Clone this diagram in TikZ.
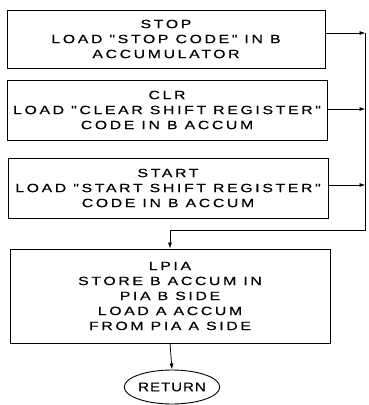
\documentclass[tikz,border=0pt]{standalone}
\usepackage{fontspec}
\usetikzlibrary{arrows.meta,shapes.geometric}
\newfontfamily\plotfont[FakeStretch=1.32,LetterSpace=22,FakeBold=0.4]{Liberation Sans}
\newfontfamily\endfont[FakeStretch=1.2,LetterSpace=8,FakeBold=0.4]{Liberation Sans}

\tikzset{
    blockbox/.style={draw, line width=0.9pt, align=center, inner sep=0pt,
        font=\plotfont\fontsize{12}{15}\selectfont},
    endbox/.style={draw, ellipse, line width=0.9pt, inner sep=0pt,
        minimum width=74pt, minimum height=34pt,
        font=\endfont\fontsize{12.5}{15}\selectfont},
    flowline/.style={line width=0.8pt},
    flowarrow/.style={line width=0.8pt, -{Latex[length=6pt,width=4pt]}}
}

\begin{document}
\begin{tikzpicture}[x=1pt,y=-1pt]

    % Keep the page the size of the reference
    \useasboundingbox (0,0) rectangle (368,405);

    % The three entry blocks
    \node[blockbox, minimum width=318pt, minimum height=58pt] (stop) at (166,39)
        {STOP\\LOAD "STOP CODE" IN B\\ACCUMULATOR};
    \node[blockbox, minimum width=320pt, minimum height=60pt] (clr) at (167,110)
        {CLR\\LOAD "CLEAR SHIFT REGISTER"\\CODE IN B ACCUM};
    \node[blockbox, minimum width=320pt, minimum height=60pt] (start) at (168,188)
        {START\\LOAD "START SHIFT REGISTER"\\CODE IN B ACCUM};

    % Common block and exit
    \node[blockbox, minimum width=320pt, minimum height=94pt] (lpia) at (170,296)
        {LPIA\\STORE B ACCUM IN\\PIA B SIDE\\LOAD A ACCUM\\FROM PIA A SIDE};
    \node[endbox] (ret) at (172,387) {RETURN};

    % Points on the return bus at the right
    \coordinate (bus1) at (365.5,33);
    \coordinate (bus2) at (365.5,109);
    \coordinate (bus3) at (365.5,185);
    \coordinate (bus4) at (365.5,230);
    \coordinate (drop) at (lpia.north |- bus4);

    % Each entry block runs into the bus
    \draw[flowarrow] (stop.east |- bus1) -- (bus1);
    \draw[flowarrow] (clr.east |- bus2) -- (bus2);
    \draw[flowarrow] (start.east |- bus3) -- (bus3);
    \draw[flowline] (bus1) -- (bus4) -- (drop);
    \draw[flowarrow] (drop) -- (lpia.north);
    \draw[flowarrow] (lpia.south) -- (ret.north);

\end{tikzpicture}
\end{document}
